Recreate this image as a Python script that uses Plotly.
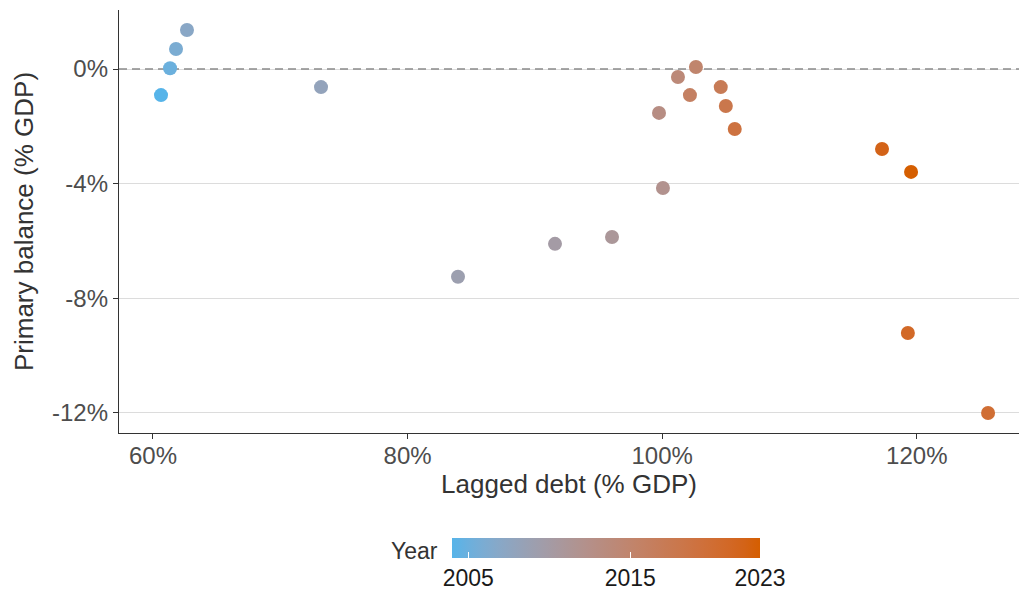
import numpy as np
import plotly.graph_objects as go

years = list(range(2004, 2024))
lagged_debt = [60.63, 61.34, 61.81, 62.67, 73.2, 83.96, 91.58, 96.06, 100.06, 99.75,
               101.24, 102.65, 102.18, 104.6, 105.0, 105.7, 125.6, 119.3, 117.27, 119.55]
primary_balance = [-0.91, 0.03, 0.70, 1.36, -0.63, -7.25, -6.10, -5.86, -4.15, -1.53,
                   -0.28, 0.07, -0.91, -0.63, -1.29, -2.09, -12.0, -9.21, -2.79, -3.59]
x_ticks = [60, 80, 100, 120]
y_ticks = [0, -4, -8, -12]
cb_ticks = [2005, 2015, 2023]
reference_balance = 0

LOW = "#56B4E9"
HIGH = "#D55E00"


def hex2rgb(h):
    h = h.lstrip("#")
    return np.array([int(h[i:i + 2], 16) for i in (0, 2, 4)], dtype=float) / 255


def srgb2lin(c):
    return np.where(c <= 0.04045, c / 12.92, ((c + 0.055) / 1.055) ** 2.4)


def lin2srgb(c):
    c = np.clip(c, 0, 1)
    return np.where(c <= 0.0031308, 12.92 * c, 1.055 * c ** (1 / 2.4) - 0.055)


M = np.array([[0.4124, 0.3576, 0.1805], [0.2126, 0.7152, 0.0722], [0.0193, 0.1192, 0.9505]])
Minv = np.linalg.inv(M)
WP = np.array([0.95047, 1.0, 1.08883])


def f(t):
    d = 6 / 29
    return np.where(t > d ** 3, np.cbrt(t), t / (3 * d * d) + 4 / 29)


def finv(t):
    d = 6 / 29
    return np.where(t > d, t ** 3, 3 * d * d * (t - 4 / 29))


def rgb2lab(rgb):
    xyz = M @ srgb2lin(rgb) / WP
    fx, fy, fz = f(xyz)
    return np.array([116 * fy - 16, 500 * (fx - fy), 200 * (fy - fz)])


def lab2rgb(lab):
    L, a, b = lab
    fy = (L + 16) / 116
    fx = fy + a / 500
    fz = fy - b / 200
    xyz = np.array([finv(fx), finv(fy), finv(fz)]) * WP
    return lin2srgb(Minv @ xyz)


lab_lo, lab_hi = rgb2lab(hex2rgb(LOW)), rgb2lab(hex2rgb(HIGH))
colorscale = []
for t in np.linspace(0, 1, 21):
    r, g, b = (lab2rgb(lab_lo + (lab_hi - lab_lo) * t) * 255).round().astype(int)
    colorscale.append([float(t), f"rgb({r},{g},{b})"])

FONT = "Liberation Sans, Arial, sans-serif"
GREY = "#4d4d4d"
L_PX, T_PX, PW, PH = 119, 10, 900, 423
X_RANGE = [57.33, 128.03]
Y_RANGE = [-12.70, 2.06]

fig = go.Figure()
# dashed reference line at zero, drawn beneath the points
fig.add_trace(go.Scatter(
    x=X_RANGE, y=[reference_balance] * 2, mode="lines",
    line=dict(color="#8a8a8a", width=1.5, dash="8px,5px"),
    hoverinfo="skip", showlegend=False, cliponaxis=True))
fig.add_trace(go.Scatter(
    x=lagged_debt, y=primary_balance, mode="markers",
    marker=dict(size=14, color=years, colorscale=colorscale, cmin=min(years), cmax=max(years),
                line=dict(width=0),
                colorbar=dict(orientation="h", lenmode="pixels", len=308, thickness=20,
                              x=(606 - L_PX) / PW, xanchor="center",
                              y=-(538 - (T_PX + PH)) / PH, yanchor="top",
                              xpad=0, ypad=0,
                              outlinewidth=0, tickvals=cb_ticks, ticks="inside",
                              ticklen=6, tickcolor="white", tickwidth=1,
                              tickfont=dict(family=FONT, size=23, color="#1a1a1a"),
                              title=dict(text=""))),
    hoverinfo="skip", showlegend=False))

fig.add_annotation(text="Year", xref="paper", yref="paper",
                   x=(440 - L_PX) / PW, y=-(551 - (T_PX + PH)) / PH,
                   xanchor="right", yanchor="middle", showarrow=False,
                   font=dict(family=FONT, size=23, color="#333333"))

fig.update_layout(
    width=1019, height=594, plot_bgcolor="white", paper_bgcolor="white",
    margin=dict(l=L_PX, r=0, t=T_PX, b=161, autoexpand=False),
    font=dict(family=FONT, color=GREY),
    xaxis=dict(range=X_RANGE, tickvals=x_ticks, ticktext=[f"{v}%" for v in x_ticks],
               showgrid=False, zeroline=False, showline=True, linecolor="#333333", linewidth=1.3,
               ticks="outside", ticklen=5, tickcolor="#333333", ticklabelstandoff=-4,
               tickfont=dict(size=24, color=GREY),
               title=dict(text="Lagged debt (% GDP)", font=dict(size=26, color="#333333"), standoff=0)),
    yaxis=dict(range=Y_RANGE, tickvals=y_ticks, ticktext=[f"{v}%" for v in y_ticks],
               showgrid=True, gridcolor="#dcdcdc", gridwidth=1, zeroline=False,
               showline=True, linecolor="#333333", linewidth=1.3,
               ticks="outside", ticklen=5, tickcolor="#333333",
               tickfont=dict(size=24, color=GREY),
               title=dict(text="Primary balance (% GDP)", font=dict(size=26, color="#333333"), standoff=10)),
)
fig.write_html("out.html")
